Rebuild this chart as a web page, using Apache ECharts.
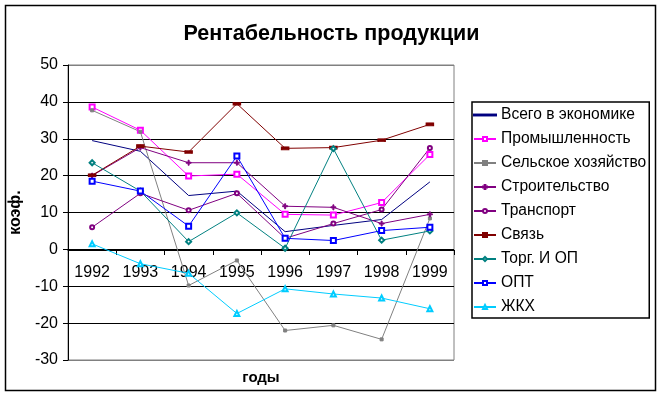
<!DOCTYPE html>
<html>
<head>
<meta charset="utf-8">
<script src="https://cdn.jsdelivr.net/npm/echarts@6/dist/echarts.min.js"></script>
<style>
  html, body { margin: 0; padding: 0; background: #fff; }
  #main { width: 663px; height: 397px; }
</style>
</head>
<body>
<div id="main"></div>
<script>
// годы
var years = ['1992', '1993', '1994', '1995', '1996', '1997', '1998', '1999'];
// значения по отраслям
var vsegoEkon = [29.5, 26.6, 14.6, 15.8, 4.8, 6.5, 8.1, 18.3];
var promysh = [38.6, 32.3, 19.9, 20.4, 9.5, 9.3, 12.7, 25.7];
var selHoz = [37.7, 31.9, -9.8, -3.0, -22.0, -20.6, -24.4, 8.4];
var stroit = [20.0, 27.6, 23.5, 23.5, 11.7, 11.4, 7.0, 9.5];
var transport = [6.0, 15.2, 10.6, 15.2, 3.0, 7.0, 10.8, 27.5];
var svyaz = [20.1, 28.0, 26.4, 39.5, 27.4, 27.6, 29.6, 33.9];
var torg = [23.5, 15.8, 2.1, 9.9, 0.3, 27.3, 2.5, 5.0];
var opt = [18.5, 15.8, 6.3, 25.3, 3.0, 2.4, 5.1, 6.0];
var zhkh = [1.5, -3.9, -6.5, -17.4, -10.7, -12.1, -13.2, -16.1];

var font = '"Liberation Sans", Arial, sans-serif';
var plus = 'path://M2,0H3V2H5V3H3V5H2V3H0V2H2Z';
var dash = 'path://M0,0H24V1H0Z';

var chart = echarts.init(document.getElementById('main'));

function line(name, data, color, symbol, size) {
    return {
        name: name,
        type: 'line',
        data: data,
        symbol: symbol,
        symbolSize: size,
        showSymbol: symbol !== 'none',
        lineStyle: { color: color, width: 1 },
        itemStyle: { color: color, borderColor: color, borderWidth: 1 },
        emphasis: { disabled: true }
    };
}

var option = {
    animation: false,
    textStyle: { fontFamily: font },
    title: {
        text: 'Рентабельность продукции',
        left: 'center',
        top: 18,
        textStyle: { fontFamily: font, fontSize: 21.5, fontWeight: 'bold', color: '#000' }
    },
    graphic: [{
        type: 'rect',
        shape: { x: 5.5, y: 5.5, width: 650, height: 385 },
        style: { fill: 'none', stroke: '#000', lineWidth: 1.5 },
        silent: true
    }],
    grid: [
        {
            left: 68, top: 65, right: 209, bottom: 37,
            outerBoundsMode: 'none',
            show: true, borderColor: '#808080', borderWidth: 1
        },
        // верхняя половина: ось годов проходит по нулю
        {
            left: 68, top: 65, right: 209, bottom: 147,
            outerBoundsMode: 'none',
            show: false
        }
    ],
    legend: {
        orient: 'vertical',
        left: 472,
        top: 102,
        padding: [5, 3, 3, 1],
        itemGap: 8,
        itemWidth: 22,
        itemHeight: 5,
        borderColor: '#000',
        borderWidth: 1.5,
        textStyle: { fontFamily: font, fontSize: 15.6, color: '#000' },
        data: [
            { name: 'Всего в экономике', icon: dash },
            'Промышленность', 'Сельское хозяйство', 'Строительство', 'Транспорт',
            'Связь', 'Торг. И ОП', 'ОПТ', 'ЖКХ'
        ]
    },
    xAxis: [
        {
            type: 'category',
            gridIndex: 0,
            data: years,
            name: 'годы',
            nameLocation: 'middle',
            nameGap: 10,
            nameTextStyle: { fontFamily: font, fontSize: 15, fontWeight: 'bold', color: '#000' },
            axisLine: { show: false },
            axisTick: { show: false },
            axisLabel: { show: false },
            splitLine: { show: false }
        },
        {
            type: 'category',
            gridIndex: 1,
            data: years,
            axisLine: { show: true, lineStyle: { color: '#000', width: 1 } },
            axisTick: { show: true, length: 5, lineStyle: { color: '#000' } },
            axisLabel: { fontFamily: font, fontSize: 16, color: '#000', margin: 15 },
            splitLine: { show: false }
        }
    ],
    yAxis: [
        {
            type: 'value',
            gridIndex: 0,
            min: -30,
            max: 50,
            interval: 10,
            name: 'коэф.',
            nameLocation: 'middle',
            nameGap: 41,
            nameRotate: 90,
            nameTextStyle: { fontFamily: font, fontSize: 16, fontWeight: 'bold', color: '#000' },
            axisLine: { show: true, lineStyle: { color: '#000', width: 1 } },
            axisTick: { show: true, length: 5, lineStyle: { color: '#000' } },
            axisLabel: { fontFamily: font, fontSize: 16, color: '#000', margin: 10 },
            splitLine: {
                show: true,
                lineStyle: {
                    color: ['#808080', '#000', '#000', '#000', '#000', '#000', '#000', '#000', '#808080'],
                    width: 1
                }
            }
        },
        {
            type: 'value',
            gridIndex: 1,
            min: 0,
            max: 50,
            show: false
        }
    ],
    series: [
        line('Всего в экономике', vsegoEkon, '#000080', 'none', 0),
        line('Промышленность', promysh, '#ff00ff', 'emptyRect', 5),
        line('Сельское хозяйство', selHoz, '#808080', 'rect', 3),
        line('Строительство', stroit, '#800080', plus, 5),
        line('Транспорт', transport, '#800080', 'emptyCircle', 4),
        line('Связь', svyaz, '#800000', 'rect', [7, 3]),
        line('Торг. И ОП', torg, '#008080', 'emptyDiamond', 5),
        line('ОПТ', opt, '#0000ff', 'emptyRect', 5),
        line('ЖКХ', zhkh, '#00ccff', 'emptyTriangle', 5)
    ]
};

chart.setOption(option);
</script>
</body>
</html>
